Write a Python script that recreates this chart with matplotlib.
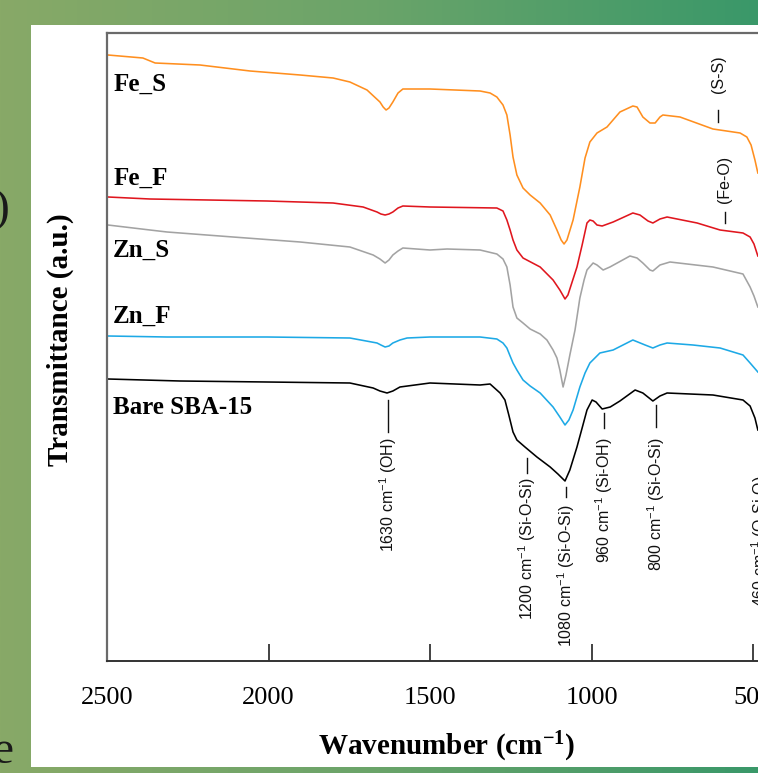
import numpy as np
import matplotlib
matplotlib.use("Agg")
import matplotlib.pyplot as plt
from matplotlib.patches import Rectangle
from matplotlib.colors import LinearSegmentedColormap

plt.rcParams['mathtext.default'] = 'regular'

# ---------------- data (wavenumber cm^-1, transmittance a.u., stacked) ----------------
wn_fes = [2497, 2389, 2351, 2212, 2057, 1902, 1800, 1748, 1695, 1655, 1645, 1636, 1627, 1615,
          1599, 1584, 1500, 1345, 1314, 1293, 1274, 1262, 1252, 1243, 1231, 1212, 1190, 1159,
          1128, 1107, 1094, 1085, 1076, 1057, 1036, 1020, 1005, 983, 952, 912, 872, 859, 841,
          819, 803, 788, 779, 726, 624, 540, 519, 506, 494, 485]
t_fes = [606, 603, 598, 596, 590, 586, 583, 579, 571, 559, 554, 551, 553, 559,
         568, 572, 572, 570, 568, 564, 556, 546, 526, 504, 486, 473, 466, 458,
         446, 431, 421, 417, 421, 441, 474, 503, 519, 528, 534, 549, 555, 554, 544,
         538, 538, 544, 546, 544, 532, 528, 524, 516, 501, 488]

wn_fef = [2497, 2367, 2005, 1800, 1707, 1664, 1652, 1639, 1627, 1615, 1599, 1584, 1500, 1293,
          1274, 1262, 1252, 1243, 1231, 1212, 1159, 1119, 1098, 1082, 1073, 1061, 1045, 1029,
          1014, 1005, 995, 983, 967, 933, 872, 850, 825, 810, 788, 766, 673, 602, 531, 509,
          497, 485]
t_fef = [464, 462, 460, 458, 454, 449, 447, 446, 447, 449, 453, 455, 454, 453,
         450, 441, 431, 421, 411, 403, 394, 381, 371, 362, 366, 378, 394, 416,
         438, 441, 440, 436, 435, 439, 448, 446, 440, 438, 442, 444, 438, 431, 428, 424,
         417, 405]

wn_zns = [2497, 2367, 2314, 2110, 1902, 1748, 1676, 1655, 1639, 1627, 1615, 1599, 1584, 1500,
          1447, 1345, 1293, 1274, 1262, 1252, 1243, 1231, 1212, 1190, 1159, 1138, 1119, 1107,
          1098, 1088, 1079, 1067, 1051, 1036, 1023, 1014, 995, 983, 964, 943, 881, 859, 841,
          819, 810, 788, 757, 624, 531, 509, 497, 485]
t_zns = [436, 431, 429, 424, 419, 414, 406, 402, 398, 401, 406, 410, 413, 411,
         412, 411, 407, 402, 394, 376, 354, 343, 338, 332, 327, 321, 311, 303,
         291, 274, 286, 306, 331, 363, 381, 391, 398, 396, 391, 394, 405, 403, 398,
         391, 390, 396, 399, 394, 387, 374, 365, 354]

wn_znf = [2497, 2314, 2005, 1748, 1664, 1652, 1639, 1627, 1615, 1593, 1571, 1500, 1345, 1293,
          1274, 1262, 1252, 1243, 1231, 1212, 1190, 1159, 1119, 1098, 1082, 1070, 1057, 1036,
          1020, 1005, 974, 933, 872, 834, 810, 788, 766, 686, 602, 531, 509, 485]
t_znf = [325, 324, 324, 323, 318, 316, 314, 315, 318, 321, 323, 324, 324, 322,
         318, 313, 305, 298, 291, 281, 275, 268, 254, 244, 236, 241, 251, 274,
         288, 298, 308, 311, 321, 316, 313, 316, 318, 316, 313, 306, 298, 289]

wn_bare = [2497, 2274, 2005, 1748, 1676, 1655, 1633, 1615, 1593, 1500, 1345, 1314, 1283, 1268,
           1256, 1243, 1231, 1206, 1169, 1128, 1104, 1082, 1067, 1045, 1029, 1014, 998, 986,
           967, 942, 912, 865, 841, 810, 788, 766, 624, 531, 509, 494, 485]
t_bare = [282, 280, 279, 278, 273, 270, 268, 270, 274, 278, 276, 277, 268, 261,
          246, 229, 221, 214, 204, 194, 187, 180, 191, 214, 233, 251, 261, 259,
          252, 254, 260, 271, 268, 260, 265, 268, 266, 261, 255, 243, 231]

series_names = ["Fe_S", "Fe_F", "Zn_S", "Zn_F", "Bare SBA-15"]
series_colors = ["#ff8f1f", "#e0161e", "#a3a3a3", "#1da9e6", "#000000"]
series_label_y = [577, 483, 411, 345, 253]

xticks = [2500, 2000, 1500, 1000, 500]

# band annotations
band_wn = [1630, 1200, 1080, 960, 800, 478]
band_txt = ["1630 cm$^{-1}$ (OH)", "1200 cm$^{-1}$ (Si-O-Si)", "1080 cm$^{-1}$ (Si-O-Si)",
            "960 cm$^{-1}$ (Si-OH)", "800 cm$^{-1}$ (Si-O-Si)", "460 cm$^{-1}$ (O-Si-O)"]
band_line_lo = [229, 188, 164, 233, 234, None]
band_line_hi = [261, 203, 174, 248, 256, None]
band_text_top = [224, 183, 156, 224, 224, 186]

extra_wn = [608, 587]
extra_txt = ["(S-S)", "(Fe-O)"]
extra_line_lo = [539, 438]
extra_line_hi = [551, 449]
extra_text_bottom = [568, 458]

# ---------------- figure ----------------
W, H = 758, 773
fig = plt.figure(figsize=(W / 100, H / 100), dpi=100)

# slide background gradient
bg = fig.add_axes([0, 0, 1, 1], zorder=-10)
bg.set_axis_off()
cmap = LinearSegmentedColormap.from_list("g", ["#88a967", "#6aa46a", "#3a9869"])
grad = np.linspace(0, 1, 256)[None, :]
bg.imshow(grad, aspect="auto", cmap=cmap, extent=[0, 1, 0, 1])
bg.set_xlim(0, 1)
bg.set_ylim(0, 1)
bg.add_patch(Rectangle((31 / W, 1 - 767 / H), 1, (767 - 25) / H, facecolor="white",
                       edgecolor="none"))
# partial slide text on the left edge
fig.text(9 / W, 1 - 210 / H, ")", ha="right", va="center", fontsize=34,
         family="Liberation Serif", color="#1a1a1a")
fig.text(13 / W, 1 - 752 / H, "e", ha="right", va="center", fontsize=34,
         family="Liberation Serif", color="#1a1a1a")

px_per_wn = 161.5 / 500
x_lo = 400
ax = fig.add_axes([107 / W, (H - 661) / H, (2500 - x_lo) * px_per_wn / W, 628 / H])
ax.set_facecolor("none")
ax.set_xlim(2500, x_lo)
ax.set_ylim(0, 628)

all_wn = [wn_fes, wn_fef, wn_zns, wn_znf, wn_bare]
all_t = [t_fes, t_fef, t_zns, t_znf, t_bare]
for wn, t, c in zip(all_wn, all_t, series_colors):
    ax.plot(wn, t, color=c, lw=1.15, solid_joinstyle="round")

for name, y in zip(series_names, series_label_y):
    ax.text(2481, y, name, ha="left", va="center", fontsize=18, fontweight="bold",
            family="Liberation Serif")

ann_font = dict(family="Liberation Sans", fontsize=11.5, color="#111111")
for x, txt, lo, hi, top in zip(band_wn, band_txt, band_line_lo, band_line_hi, band_text_top):
    if lo is not None:
        ax.plot([x, x], [lo, hi], color="#111111", lw=1.0)
    ax.text(x, top, txt, rotation=90, ha="center", va="top", **ann_font)

for x, txt, lo, hi, bot in zip(extra_wn, extra_txt, extra_line_lo, extra_line_hi, extra_text_bottom):
    ax.plot([x, x], [lo, hi], color="#111111", lw=1.0)
    ax.text(x, bot, txt, rotation=90, ha="center", va="bottom", **ann_font)

# axes styling
ax.set_xticks(xticks)
ax.set_xticklabels([str(v) for v in xticks], family="Liberation Serif", fontsize=19)
ax.set_yticks([])
ax.tick_params(axis="x", direction="in", length=12, width=1.2, pad=19, colors="#222222")
ax.tick_params(axis="x", labelcolor="black")
for s in ["top", "left"]:
    ax.spines[s].set_color("#6a6a6a")
    ax.spines[s].set_linewidth(1.6)
ax.spines["bottom"].set_color("#333333")
ax.spines["bottom"].set_linewidth(1.4)
ax.spines["right"].set_visible(False)

fig.text(60 / W, 1 - 340 / H, "Transmittance (a.u.)", rotation=90, ha="center", va="center",
         fontsize=21, fontweight="bold", family="Liberation Serif")
fig.text(447 / W, 1 - 747 / H, "Wavenumber (cm$^{-1}$)", ha="center", va="center",
         fontsize=21, fontweight="bold", family="Liberation Serif")

fig.savefig("out.png", dpi=100)
